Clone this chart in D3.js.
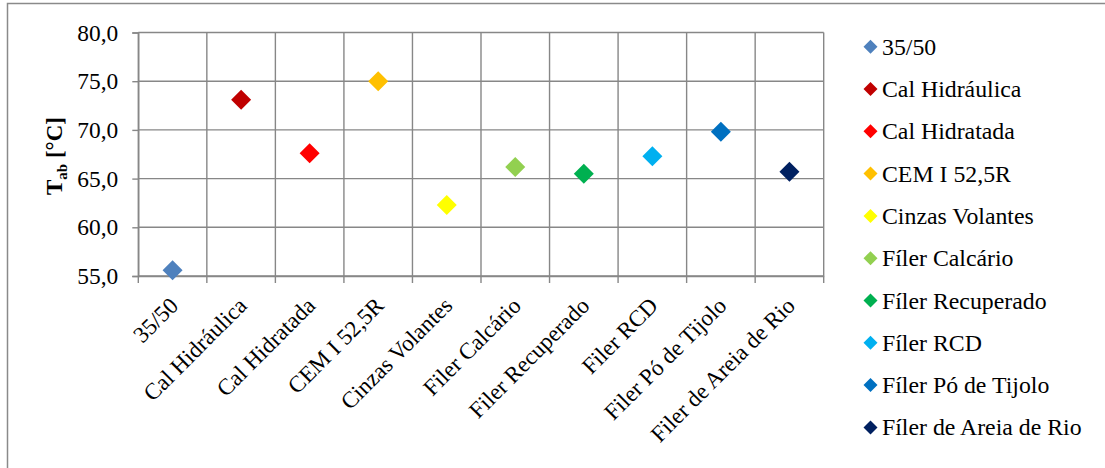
<!DOCTYPE html>
<html>
<head>
<meta charset="utf-8">
<script src="https://cdn.jsdelivr.net/npm/d3@7"></script>
<style>
  html, body { margin: 0; padding: 0; background: #fff; }
  svg { display: block; font-family: "Liberation Serif", "Times New Roman", serif; }
</style>
</head>
<body>
<svg id="chart" width="1105" height="468"></svg>
<script>
// Categories (axis labels) and legend names
const categories = ["35/50", "Cal Hidráulica", "Cal Hidratada", "CEM I 52,5R", "Cinzas Volantes",
  "Filer Calcário", "Filer Recuperado", "Filer RCD", "Filer Pó de Tijolo", "Filer de Areia de Rio"];
const seriesNames = ["35/50", "Cal Hidráulica", "Cal Hidratada", "CEM I 52,5R", "Cinzas Volantes",
  "Fíler Calcário", "Fíler Recuperado", "Fíler RCD", "Fíler Pó de Tijolo", "Fíler de Areia de Rio"];
// Softening point T_ab (°C)
const values = [55.6, 73.1, 67.6, 75.0, 62.3, 66.2, 65.5, 67.3, 69.8, 65.7];
const colors = ["#4F81BD", "#C00000", "#FF0000", "#FFC000", "#FFFF00",
  "#92D050", "#00B050", "#00B0F0", "#0070C0", "#002060"];
const yTicks = [55, 60, 65, 70, 75, 80];

const svg = d3.select("#chart");
const serif = "'Liberation Serif', 'Times New Roman', serif";
const plotLeft = 138.3, plotRight = 823.7, plotTop = 32.5, plotBottom = 276;

// Outer chart frame (left and top edges visible)
svg.append("path")
  .attr("d", "M7.5,470 V3.5 H1110")
  .attr("fill", "none").attr("stroke", "#8a8a8a").attr("stroke-width", 1.5);

const x = d3.scaleBand().domain(categories).range([plotLeft, plotRight]).padding(0);
const y = d3.scaleLinear().domain([55, 80]).range([plotBottom, plotTop]);

const gridColor = "#878787";
const fmt = v => d3.format(".1f")(v).replace(".", ",");

// Horizontal gridlines
svg.append("g").selectAll("line").data(yTicks).join("line")
  .attr("x1", plotLeft).attr("x2", plotRight)
  .attr("y1", d => y(d)).attr("y2", d => y(d))
  .attr("stroke", gridColor).attr("stroke-width", 1.4);

// Vertical gridlines at category boundaries (extend below axis as tick marks)
const bounds = categories.map(c => x(c)).concat([x(categories[categories.length - 1]) + x.bandwidth()]);
svg.append("g").selectAll("line").data(bounds).join("line")
  .attr("x1", d => d).attr("x2", d => d)
  .attr("y1", plotTop).attr("y2", plotBottom + 7)
  .attr("stroke", gridColor).attr("stroke-width", 1.4);

// Y axis
const yAxis = svg.append("g").attr("transform", `translate(${plotLeft},0)`)
  .call(d3.axisLeft(y).tickValues(yTicks).tickFormat(fmt).tickSize(6).tickPadding(14));
yAxis.attr("font-family", null).attr("font-size", null);
yAxis.select(".domain").attr("stroke", gridColor).attr("stroke-width", 1.4);
yAxis.selectAll(".tick line").attr("stroke", gridColor).attr("stroke-width", 1.4);
yAxis.selectAll(".tick text")
  .style("font-family", serif)
  .attr("font-size", 23.4).attr("fill", "#000");

// X axis labels
const xAxis = svg.append("g").attr("transform", `translate(0,${plotBottom})`)
  .call(d3.axisBottom(x).tickSize(0).tickPadding(0));
xAxis.attr("font-family", null).attr("font-size", null);
xAxis.select(".domain").attr("stroke", gridColor).attr("stroke-width", 1.4);
xAxis.selectAll(".tick text")
  .style("font-family", serif)
  .attr("font-size", 23).attr("fill", "#000")
  .attr("text-anchor", "end")
  .attr("dy", 0)
  .attr("y", 0)
  .attr("transform", "translate(7,31) rotate(-45)");

// Y axis title
const title = svg.append("text")
  .attr("transform", "translate(62,156) rotate(-90)")
  .attr("text-anchor", "middle")
  .style("font-family", serif)
  .attr("font-size", 23).attr("font-weight", "bold").attr("fill", "#000");
title.append("tspan").text("T");
title.append("tspan").attr("font-size", 15).attr("dy", 5).text("ab");
title.append("tspan").attr("dy", -5).text(" [°C]");

// Diamond marker path
const diamond = r => `M0,${-r}L${r},0L0,${r}L${-r},0Z`;

svg.append("g").selectAll("path").data(values).join("path")
  .attr("transform", (d, i) => `translate(${x(categories[i]) + x.bandwidth() / 2},${y(d)})`)
  .attr("d", diamond(10))
  .attr("fill", (d, i) => colors[i]);

// Legend
const legend = svg.append("g").selectAll("g").data(seriesNames).join("g")
  .attr("transform", (d, i) => `translate(870.5,${46.7 + i * 42.3})`);
legend.append("path").attr("d", diamond(7)).attr("fill", (d, i) => colors[i]);
legend.append("text").attr("x", 11.5).attr("dy", "0.34em")
  .style("font-family", serif)
  .attr("font-size", 23.8).attr("fill", "#000").text(d => d);
</script>
</body>
</html>
